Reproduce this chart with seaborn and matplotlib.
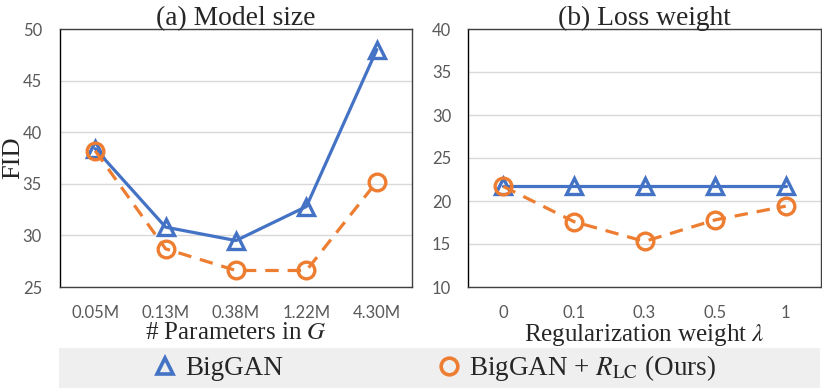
import numpy as np
import pandas as pd
import matplotlib
matplotlib.use("Agg")
import matplotlib.pyplot as plt
import seaborn as sns
from matplotlib.lines import Line2D
from matplotlib.patches import Rectangle

# data
size_labels = ["0.05M", "0.13M", "0.38M", "1.22M", "4.30M"]
size_biggan = [38.4, 30.8, 29.5, 32.8, 48.0]
size_ours = [38.2, 28.7, 26.6, 26.6, 35.2]

weight_labels = ["0", "0.1", "0.3", "0.5", "1"]
weight_biggan = [21.7, 21.7, 21.7, 21.7, 21.7]
weight_ours = [21.7, 17.6, 15.3, 17.8, 19.4]

BLUE = "#4472C4"
ORANGE = "#ED7D31"
TICK_GRAY = "#595959"

sns.set_theme(style="white")
plt.rcParams["font.family"] = ["Liberation Serif", "DejaVu Serif"]
plt.rcParams["mathtext.fontset"] = "stix"

fig = plt.figure(figsize=(8.22, 3.9), dpi=100)
ax_a = fig.add_axes([60 / 822, 103 / 390, 352 / 822, 258 / 390])
ax_b = fig.add_axes([468 / 822, 103 / 390, 353 / 822, 258 / 390])


def draw_panel(ax, labels, biggan, ours, ylim, title, xlabel, ypad):
    df = pd.DataFrame({"x": labels, "BigGAN": biggan, "Ours": ours})
    sns.lineplot(data=df, x="x", y="BigGAN", ax=ax, sort=False, color=BLUE,
                 lw=2.3, marker="^", ms=11, mfc="none", mec=BLUE, mew=2.4,
                 zorder=3)
    sns.lineplot(data=df, x="x", y="Ours", ax=ax, sort=False, color=ORANGE,
                 lw=2.3, linestyle=(0, (4.2, 2.8)), marker="o", ms=12,
                 mfc="none", mec=ORANGE, mew=2.4, zorder=4)
    ax.set_xlim(-0.5, len(labels) - 0.5)
    ax.set_ylim(*ylim)
    ax.set_yticks(np.arange(ylim[0], ylim[1] + 1, 5))
    ax.yaxis.grid(True, color="#d9d9d9", lw=1)
    ax.set_axisbelow(True)
    ax.tick_params(axis="both", length=0, labelsize=12, labelcolor=TICK_GRAY)
    ax.tick_params(axis="x", pad=13)
    ax.tick_params(axis="y", pad=ypad)
    for lab in ax.get_xticklabels() + ax.get_yticklabels():
        lab.set_fontfamily("Lato")
    for sp in ax.spines.values():
        sp.set_color("#404040")
        sp.set_linewidth(1.0)
    ax.spines["left"].set_color("black")
    ax.set_title(title, fontsize=19.8, pad=3)
    ax.set_xlabel(xlabel, fontsize=18, labelpad=1)
    ax.set_ylabel("")


draw_panel(ax_a, size_labels, size_biggan, size_ours, (25, 50),
           "(a) Model size", "# Parameters in $G$", 13)
draw_panel(ax_b, weight_labels, weight_biggan, weight_ours, (10, 40),
           "(b) Loss weight", "Regularization weight $\\lambda$", 12)
ax_a.set_ylabel("FID", fontsize=19)
ax_a.yaxis.set_label_coords(-0.102, 0.5)

# legend strip
fig.patches.append(Rectangle((59 / 822, 2 / 390), 761 / 822, 40 / 390,
                             transform=fig.transFigure, facecolor="#efefef",
                             edgecolor="none", zorder=0))
handles = [
    Line2D([], [], color=BLUE, marker="^", ms=12, mfc="none", mew=2.6, ls="none"),
    Line2D([], [], color=ORANGE, marker="o", ms=12, mfc="none", mew=2.6, ls="none"),
]
fig.legend(handles, ["BigGAN", "BigGAN + $R_{\\mathrm{LC}}$ (Ours)"],
           loc="center", bbox_to_anchor=(434 / 822, 22 / 390), ncol=2,
           frameon=False, fontsize=19.5, handlelength=1.0,
           handletextpad=0.25, columnspacing=5.6)

fig.savefig("out.png", dpi=100)
